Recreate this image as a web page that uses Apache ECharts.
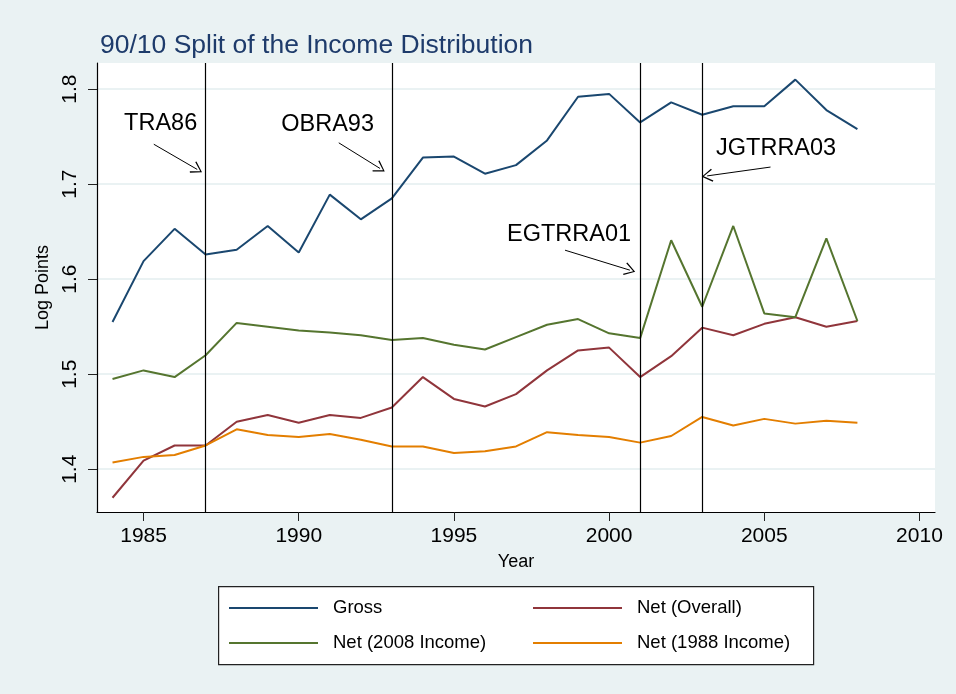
<!DOCTYPE html>
<html>
<head>
<meta charset="utf-8">
<script src="https://cdn.jsdelivr.net/npm/echarts@6/dist/echarts.min.js"></script>
<style>
html,body{margin:0;padding:0;background:#EAF2F3;}
#chart{width:956px;height:694px;}
</style>
</head>
<body>
<div id="chart"></div>
<script>
// ---- data ----
const years = [1984,1985,1986,1987,1988,1989,1990,1991,1992,1993,1994,1995,1996,1997,1998,1999,2000,2001,2002,2003,2004,2005,2006,2007,2008];
const gross = [1.555,1.619,1.653,1.626,1.631,1.656,1.628,1.689,1.663,1.685,1.728,1.729,1.711,1.720,1.746,1.792,1.795,1.765,1.786,1.773,1.782,1.782,1.810,1.778,1.758];
const netOverall = [1.370,1.409,1.425,1.425,1.450,1.457,1.449,1.457,1.454,1.465,1.497,1.474,1.466,1.479,1.504,1.525,1.528,1.497,1.519,1.549,1.541,1.553,1.560,1.550,1.556];
const net2008 = [1.495,1.504,1.497,1.520,1.554,1.550,1.546,1.544,1.541,1.536,1.538,1.531,1.526,1.539,1.552,1.558,1.543,1.538,1.641,1.571,1.656,1.564,1.560,1.643,1.556];
const net1988 = [1.407,1.413,1.415,1.425,1.442,1.436,1.434,1.437,1.431,1.424,1.424,1.417,1.419,1.424,1.439,1.436,1.434,1.428,1.435,1.455,1.446,1.453,1.448,1.451,1.449];
const reformYears = [1987,1993,2001,2003];
const xTicks = [1985,1990,1995,2000,2005,2010];
const yTicks = [1.4,1.5,1.6,1.7,1.8];
const annotLabels = ['TRA86','OBRA93','EGTRRA01','JGTRRA03'];
const annotTextAt = [[1985.55,1.764],[1990.93,1.763],[1998.71,1.647],[2005.38,1.738]];
const annotArrowFrom = [[1985.33,1.742],[1991.29,1.7435],[1998.58,1.6305],[2005.20,1.718]];
const annotArrowTo = [[1986.73,1.7155],[1992.62,1.7165],[2000.67,1.6095],[2003.16,1.7087]];

// ---- chart ----
const pairs = arr => years.map((y,i)=>[y,arr[i]]);
const chart = echarts.init(document.getElementById('chart'));
const FONT = '"Liberation Sans", Arial, Helvetica, sans-serif';
const chevron = 'path://M0,0 L6,10 L5,10.8 L0,2 L-5,10.8 L-6,10 Z';

const lineSeries = (name, arr, color) => ({
  name, type:'line', data: pairs(arr), symbol:'none', showSymbol:false,
  lineStyle:{color, width:2}, itemStyle:{color}, z:3, animation:false
});

const option = {
  backgroundColor:'#EAF2F3',
  animation:false,
  textStyle:{fontFamily:FONT},
  title:{
    text:'90/10 Split of the Income Distribution',
    left:100, top:32, padding:0,
    textStyle:{fontFamily:FONT, fontSize:26.5, fontWeight:'normal', color:'#1E3B6B'}
  },
  grid:{left:97, right:21, top:63, bottom:182, show:true, backgroundColor:'#ffffff', borderWidth:0, containLabel:false},
  xAxis:{
    type:'value', min:1983.5, max:2010.5,
    name:'Year', nameLocation:'middle', nameGap:41,
    nameTextStyle:{fontFamily:FONT, fontSize:18, color:'#000'},
    axisLine:{show:true, onZero:false, lineStyle:{color:'#000', width:1.2}},
    axisTick:{show:true, length:9, customValues:xTicks, lineStyle:{color:'#222', width:1}},
    axisLabel:{customValues:xTicks, fontSize:21, color:'#000', margin:14, fontFamily:FONT,
      formatter: v => String(Math.round(v))},
    splitLine:{show:false}
  },
  yAxis:{
    type:'value', min:1.355, max:1.8275,
    name:'Log Points', nameLocation:'middle', nameGap:43, nameRotate:90,
    nameTextStyle:{fontFamily:FONT, fontSize:18, color:'#000'},
    axisLine:{show:true, onZero:false, lineStyle:{color:'#000', width:1.2}},
    axisTick:{show:true, length:9, customValues:yTicks, lineStyle:{color:'#222', width:1}},
    axisLabel:{customValues:yTicks, rotate:90, fontSize:21, color:'#000', margin:16, fontFamily:FONT,
      formatter: v => v.toFixed(1)},
    splitLine:{show:true, lineStyle:{color:'#EAF2F3', width:2}}
  },
  legend:[
    {
      data:['Gross','Net (2008 Income)'], orient:'vertical', left:229, top:598,
      itemWidth:89, itemHeight:20, itemGap:15, padding:0,
      icon:'path://M0,9 L89,9 L89,11 L0,11 Z',
      textStyle:{fontFamily:FONT, fontSize:18.5, color:'#000', lineHeight:20, padding:[0,0,0,10]}
    },
    {
      data:['Net (Overall)','Net (1988 Income)'], orient:'vertical', left:533, top:598,
      itemWidth:89, itemHeight:20, itemGap:15, padding:0,
      icon:'path://M0,9 L89,9 L89,11 L0,11 Z',
      textStyle:{fontFamily:FONT, fontSize:18.5, color:'#000', lineHeight:20, padding:[0,0,0,10]}
    }
  ],
  graphic:[
    {type:'rect', left:218, top:586, shape:{width:595, height:78}, z:-1,
     style:{fill:'#ffffff', stroke:'#222', lineWidth:1.2}}
  ],
  series:[
    lineSeries('Gross', gross, '#1a476f'),
    lineSeries('Net (Overall)', netOverall, '#90353b'),
    lineSeries('Net (2008 Income)', net2008, '#55752f'),
    lineSeries('Net (1988 Income)', net1988, '#e37e00'),
    {
      name:'reforms', type:'line', data:[], z:4, silent:true,
      markLine:{
        silent:true, symbol:['none','none'], label:{show:false},
        lineStyle:{color:'#000', width:1.2, type:'solid'},
        data: reformYears.map(y=>({xAxis:y}))
      }
    },
    {
      name:'arrows', type:'line', data:[], z:5, silent:true,
      markLine:{
        silent:true, symbol:['none', chevron], symbolSize:[13,11], label:{show:false},
        lineStyle:{color:'#000', width:1, type:'solid'},
        data: annotArrowFrom.map((f,i)=>[{coord:f},{coord:annotArrowTo[i]}])
      }
    },
    {
      name:'labels', type:'scatter', z:6, silent:true,
      symbolSize:0, itemStyle:{color:'#000', opacity:1},
      data: annotLabels.map((t,i)=>({name:t, value:annotTextAt[i]})),
      label:{show:true, position:'inside', formatter:'{b}', fontFamily:FONT, fontSize:23.5,
        color:'#000', opacity:1, textBorderWidth:0}
    }
  ]
};
chart.setOption(option);
</script>
</body>
</html>
